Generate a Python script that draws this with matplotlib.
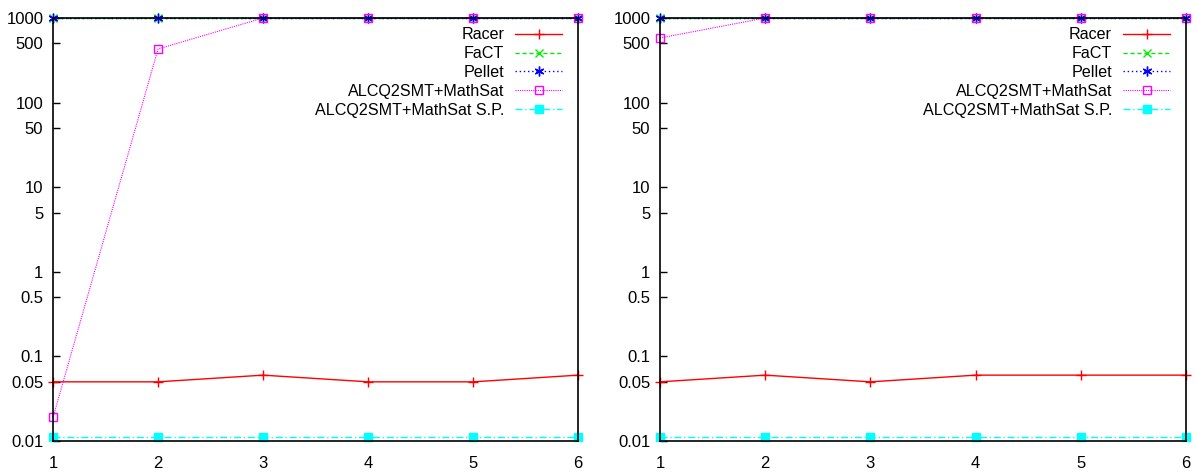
import numpy as np
import matplotlib
matplotlib.use("Agg")
import matplotlib.pyplot as plt
from matplotlib.ticker import FixedLocator, FixedFormatter, NullLocator

plt.rcParams['font.family'] = ['Liberation Sans', 'DejaVu Sans']

x = [1, 2, 3, 4, 5, 6]

# left panel
racer_l = [0.05, 0.05, 0.06, 0.05, 0.05, 0.06]
fact_l = [1000, 1000, 1000, 1000, 1000, 1000]
pellet_l = [1000, 1000, 1000, 1000, 1000, 1000]
alcq_l = [0.019, 430, 1000, 1000, 1000, 1000]
alcq_sp_l = [0.011, 0.011, 0.011, 0.011, 0.011, 0.011]

# right panel
racer_r = [0.05, 0.06, 0.05, 0.06, 0.06, 0.06]
fact_r = [1000, 1000, 1000, 1000, 1000, 1000]
pellet_r = [1000, 1000, 1000, 1000, 1000, 1000]
alcq_r = [580, 1000, 1000, 1000, 1000, 1000]
alcq_sp_r = [0.011, 0.011, 0.011, 0.011, 0.011, 0.011]

labels = ["Racer", "FaCT", "Pellet", "ALCQ2SMT+MathSat", "ALCQ2SMT+MathSat S.P."]
yticks = [0.01, 0.05, 0.1, 0.5, 1, 5, 10, 50, 100, 500, 1000]
yticklabels = ["0.01", "0.05", "0.1", "0.5", "1", "5", "10", "50", "100", "500", "1000"]

fig = plt.figure(figsize=(11.97, 4.73), dpi=100)
ax1 = fig.add_axes([0.0443, 0.0677, 0.4387, 0.8943])
ax2 = fig.add_axes([0.5514, 0.0677, 0.4394, 0.8943])

asterisk = (6, 2, 0)


def draw(ax, racer, fact, pellet, alcq, alcq_sp):
    ax.plot(x, racer, color='red', ls='-', lw=1, marker='+', ms=7, mew=1,
            label=labels[0], clip_on=False)
    ax.plot(x, fact, color='#00ee00', ls=(0, (3, 2)), lw=1, marker='x', ms=6, mew=1,
            label=labels[1], clip_on=False)
    ax.plot(x, pellet, color='blue', ls=(0, (1, 2)), lw=1, marker=asterisk, ms=7, mew=1,
            label=labels[2], clip_on=False)
    ax.plot(x, alcq, color='magenta', ls=(0, (1, 1)), lw=0.8, marker='s', ms=6, mew=1,
            mfc='none', label=labels[3], clip_on=False)
    ax.plot(x, alcq_sp, color='cyan', ls=(0, (5, 2, 1, 2)), lw=1, marker='s', ms=6,
            label=labels[4], clip_on=False)

    ax.set_yscale('log')
    ax.set_xlim(1, 6)
    ax.set_ylim(0.01, 1000)
    ax.yaxis.set_major_locator(FixedLocator(yticks))
    ax.yaxis.set_major_formatter(FixedFormatter(yticklabels))
    ax.yaxis.set_minor_locator(NullLocator())
    ax.set_xticks(x)
    ax.tick_params(direction='in', length=5, width=1, labelsize=12, top=False, right=False)
    ax.tick_params(axis='y', pad=7)
    ax.tick_params(axis='x', pad=11)
    for s in ax.spines.values():
        s.set_linewidth(1.2)

    leg = ax.legend(loc='upper right', bbox_to_anchor=(0.985, 0.997), frameon=False,
                    markerfirst=False, handlelength=2.9, fontsize=11.6,
                    labelspacing=0.24, handletextpad=0.7, borderpad=0.0)
    leg._legend_box.align = "right"


draw(ax1, racer_l, fact_l, pellet_l, alcq_l, alcq_sp_l)
draw(ax2, racer_r, fact_r, pellet_r, alcq_r, alcq_sp_r)

fig.savefig('out.png', dpi=100)
